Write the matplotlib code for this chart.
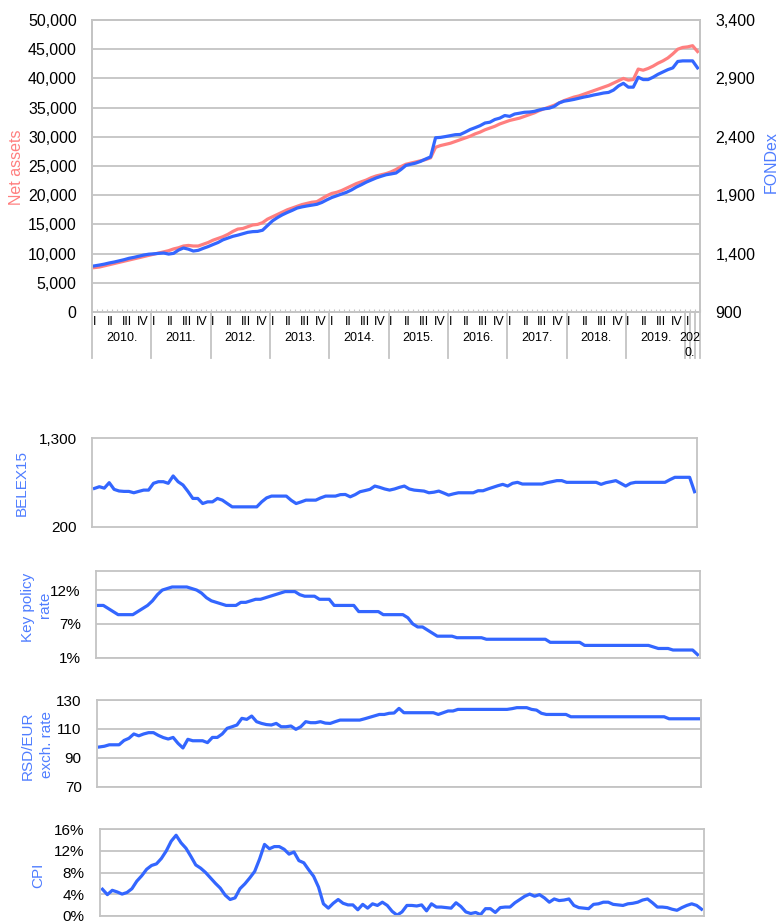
import numpy as np
import matplotlib
matplotlib.use("Agg")
import matplotlib.pyplot as plt
import matplotlib.transforms as mtransforms
from matplotlib.ticker import FuncFormatter

plt.rcParams["font.family"] = ["Liberation Sans", "DejaVu Sans"]

# monthly data, Jan 2010 - Mar 2020
years = ["2010.", "2011.", "2012.", "2013.", "2014.", "2015.", "2016.", "2017.", "2018.", "2019."]
quarters = ["I", "II", "III", "IV"]

net_assets = [
    7600, 7700, 7900, 8100, 8300, 8500, 8700, 8900, 9100, 9300, 9500, 9700,
    9900, 10100, 10300, 10500, 10800, 11000, 11300, 11400, 11300, 11300, 11600, 11900,
    12300, 12600, 12900, 13300, 13800, 14200, 14300, 14600, 14900, 15000, 15300, 15900,
    16300, 16700, 17100, 17500, 17800, 18100, 18400, 18600, 18800, 18900, 19400, 19900,
    20300, 20500, 20800, 21200, 21600, 22000, 22300, 22600, 23000, 23300, 23500, 23700,
    24000, 24400, 24900, 25300, 25500, 25700, 25900, 26100, 26400, 28200, 28500, 28700,
    28900, 29200, 29500, 29800, 30100, 30500, 30800, 31200, 31500, 31800, 32200, 32500,
    32800, 33000, 33200, 33500, 33800, 34100, 34500, 34800, 35100, 35400, 35800, 36200,
    36500, 36800, 37000, 37300, 37600, 37900, 38200, 38500, 38800, 39200, 39600, 40000,
    39700, 39800, 41600, 41400, 41700, 42100, 42600, 43000, 43500, 44200, 45000, 45300,
    45400, 45600, 44600,
]

fondex = [
    1295, 1302, 1310, 1320, 1328, 1338, 1348, 1360, 1368, 1378, 1388, 1395,
    1398, 1402, 1405, 1396, 1402, 1430, 1448, 1438, 1422, 1428, 1445, 1460,
    1478, 1495, 1518, 1533, 1548, 1558, 1570, 1582, 1588, 1590, 1600, 1640,
    1680, 1708, 1732, 1752, 1770, 1790, 1800, 1808, 1815, 1822, 1838, 1860,
    1880, 1895, 1910, 1925, 1945, 1970, 1990, 2012, 2030, 2048, 2062, 2075,
    2082, 2090, 2120, 2155, 2165, 2175, 2190, 2210, 2228, 2392, 2395, 2402,
    2410, 2418, 2420, 2440, 2462, 2478, 2495, 2518, 2525, 2548, 2560, 2582,
    2575, 2595, 2602, 2610, 2612, 2618, 2630, 2640, 2645, 2660, 2690, 2705,
    2712, 2720, 2730, 2740, 2748, 2758, 2766, 2775, 2780, 2800, 2835, 2858,
    2825, 2825, 2910, 2890, 2890, 2910, 2935, 2955, 2975, 2990, 3045, 3050,
    3050, 3050, 2990,
]

belex15 = [
    677, 698, 680, 748, 665, 645, 640, 640, 623, 640, 656, 656,
    740, 760, 760, 740, 831, 760, 719, 640, 553, 553, 490, 511,
    511, 553, 532, 490, 449, 449, 449, 449, 449, 449, 511, 560,
    582, 582, 582, 582, 530, 490, 510, 532, 532, 532, 560, 582,
    582, 582, 600, 602, 573, 600, 636, 650, 665, 706, 690, 670,
    656, 670, 690, 706, 670, 656, 650, 644, 623, 630, 644, 620,
    594, 610, 623, 623, 623, 623, 648, 648, 670, 690, 710, 727,
    706, 740, 752, 731, 731, 731, 731, 731, 748, 760, 773, 773,
    752, 752, 752, 752, 752, 752, 752, 727, 748, 760, 773, 740,
    706, 740, 752, 752, 752, 752, 752, 752, 752, 785, 814, 814,
    814, 814, 636,
]

policy_rate = [
    9.5, 9.5, 9.0, 8.5, 8.0, 8.0, 8.0, 8.0, 8.5, 9.0, 9.5, 10.25,
    11.25, 12.0, 12.25, 12.5, 12.5, 12.5, 12.5, 12.25, 12.0, 11.5, 10.75, 10.25,
    10.0, 9.75, 9.5, 9.5, 9.5, 10.0, 10.0, 10.25, 10.5, 10.5, 10.75, 11.0,
    11.25, 11.5, 11.75, 11.75, 11.75, 11.25, 11.0, 11.0, 11.0, 10.5, 10.5, 10.5,
    9.5, 9.5, 9.5, 9.5, 9.5, 8.5, 8.5, 8.5, 8.5, 8.5, 8.0, 8.0,
    8.0, 8.0, 8.0, 7.5, 6.5, 6.0, 6.0, 5.5, 5.0, 4.5, 4.5, 4.5,
    4.5, 4.25, 4.25, 4.25, 4.25, 4.25, 4.25, 4.0, 4.0, 4.0, 4.0, 4.0,
    4.0, 4.0, 4.0, 4.0, 4.0, 4.0, 4.0, 4.0, 3.5, 3.5, 3.5, 3.5,
    3.5, 3.5, 3.5, 3.0, 3.0, 3.0, 3.0, 3.0, 3.0, 3.0, 3.0, 3.0,
    3.0, 3.0, 3.0, 3.0, 3.0, 2.75, 2.5, 2.5, 2.5, 2.25, 2.25, 2.25,
    2.25, 2.25, 1.5,
]

rsd_eur = [
    97.5, 98.0, 99.0, 99.0, 99.0, 102.0, 103.5, 106.5, 105.2, 106.5, 107.4, 107.4,
    105.5, 104.0, 103.0, 104.1, 100.0, 96.8, 102.8, 101.8, 101.8, 101.8, 100.5, 104.1,
    104.1, 106.5, 110.4, 111.5, 112.7, 117.3, 116.6, 118.9, 115.0, 113.8, 113.0, 112.7,
    113.8, 111.5, 111.5, 112.0, 109.7, 111.5, 115.0, 114.3, 114.3, 115.0, 114.0, 113.8,
    115.0, 116.1, 116.1, 116.1, 116.1, 116.1, 117.0, 118.0, 119.0, 120.0, 120.0, 120.8,
    121.0, 124.2, 121.2, 121.2, 121.2, 121.2, 121.2, 121.2, 121.2, 120.0, 121.2, 122.4,
    122.4, 123.5, 123.5, 123.5, 123.5, 123.5, 123.5, 123.5, 123.5, 123.5, 123.5, 123.5,
    124.0, 124.7, 124.7, 124.7, 123.5, 123.0, 120.8, 120.0, 120.0, 120.0, 120.0, 120.0,
    118.4, 118.4, 118.4, 118.4, 118.4, 118.4, 118.4, 118.4, 118.4, 118.4, 118.4, 118.4,
    118.4, 118.4, 118.4, 118.4, 118.4, 118.4, 118.4, 118.4, 117.0, 117.0, 117.0, 117.0,
    117.0, 117.0, 117.0,
]

cpi = [
    4.9, 3.9, 4.7, 4.4, 4.0, 4.3, 5.0, 6.4, 7.4, 8.6, 9.3, 9.6,
    10.6, 12.0, 13.8, 14.9, 13.5, 12.5, 11.0, 9.4, 8.8, 8.0, 7.0, 6.0,
    5.1, 3.8, 3.0, 3.3, 5.0, 5.9, 7.0, 8.2, 10.5, 13.2, 12.4, 12.8,
    12.8, 12.3, 11.4, 11.8, 10.2, 9.8, 8.5, 7.3, 5.3, 2.2, 1.4, 2.3,
    3.0, 2.3, 2.0, 2.0, 1.1, 2.1, 1.4, 2.2, 1.9, 2.5, 1.9, 0.8,
    0.1, 0.7, 1.9, 1.9, 1.8, 2.0, 0.9, 2.2, 1.6, 1.6, 1.5, 1.4,
    2.4, 1.7, 0.7, 0.4, 0.6, 0.2, 1.3, 1.3, 0.6, 1.5, 1.6, 1.6,
    2.4, 3.0, 3.6, 4.0, 3.6, 3.9, 3.3, 2.5, 3.1, 2.8, 2.9, 3.1,
    1.9, 1.5, 1.4, 1.3, 2.1, 2.2, 2.5, 2.5, 2.1, 2.0, 1.9, 2.2,
    2.3, 2.5, 2.9, 3.1, 2.4, 1.6, 1.6, 1.5, 1.2, 1.0, 1.5, 1.9,
    2.2, 1.9, 1.2,
]

W, H = 779, 923
PINK = "#ff7f7f"
BLUE = "#3366ff"
LBLUE = "#4f7dff"
GRID = "#c4c4c4"
LW = 2.3

x = np.arange(len(net_assets))
fig = plt.figure(figsize=(W / 100, H / 100), dpi=100)


def box(l, t, r, b):
    return [l / W, 1 - b / H, (r - l) / W, (b - t) / H]


def style(ax, size=11):
    for s in ax.spines.values():
        s.set_color(GRID)
        s.set_linewidth(1.3)
    ax.tick_params(axis="y", length=0, labelsize=size, pad=11)
    ax.set_xlim(-0.5, len(x) - 0.5)
    ax.set_xticks([])


thousands = FuncFormatter(lambda v, p: f"{v:,.0f}")

# ---- top panel: net assets and FONDex
ax = fig.add_axes(box(92, 20, 700, 312))
ax.plot(x, net_assets, color=PINK, lw=LW)
style(ax, 11.5)
ax.set_ylim(0, 50000)
ax.set_yticks(range(0, 50001, 5000))
ax.yaxis.set_major_formatter(thousands)
ax.grid(axis="y", color=GRID, lw=1.3)
ax.set_axisbelow(True)
ax.set_xticks(np.arange(-0.5, len(x), 1), minor=True)
ax.tick_params(axis="x", which="minor", direction="in", length=2.5, color=GRID, width=0.8)

ax2 = ax.twinx()
ax2.plot(x, fondex, color=BLUE, lw=LW)
style(ax2, 11.5)
ax2.set_ylim(900, 3400)
ax2.set_yticks(range(900, 3401, 500))
ax2.yaxis.set_major_formatter(thousands)

trans = mtransforms.blended_transform_factory(ax.transData, ax.transAxes)
for m in range(0, len(x), 3):
    ax.text(m - 0.4, -0.034, quarters[(m // 3) % 4], transform=trans,
            ha="left", va="center", fontsize=9)
for i, yr in enumerate(years):
    ax.text(12 * i + 5.5, -0.09, yr, transform=trans, ha="center", va="center", fontsize=9)
ax.text(120.4, -0.09, "202", transform=trans, ha="center", va="center", fontsize=9)
ax.text(120.4, -0.142, "0.", transform=trans, ha="center", va="center", fontsize=9)
for b in list(np.arange(-0.5, 120, 12)) + [120.5, 121.5, 122.5]:
    ax.plot([b, b], [0, -0.158], transform=trans, color=GRID, lw=1.3, clip_on=False)

fig.text(17 / W, 1 - 167 / H, "Net assets", rotation=90, color=PINK,
         fontsize=11.5, ha="center", va="center")
fig.text(771 / W, 1 - 162 / H, "FONDex", rotation=90, color=LBLUE,
         fontsize=11.5, ha="center", va="center")

# ---- BELEX15
bx = fig.add_axes(box(92, 438, 697, 527))
bx.plot(x, belex15, color=BLUE, lw=LW)
style(bx)
bx.set_ylim(200, 1300)
bx.set_yticks([200, 1300])
bx.yaxis.set_major_formatter(thousands)
fig.text(22 / W, 1 - 483 / H, "BELEX15", rotation=90, color=LBLUE,
         fontsize=11, ha="center", va="center")

# ---- key policy rate
kx = fig.add_axes(box(96, 571, 700, 657.7))
kx.plot(x, policy_rate, color=BLUE, lw=LW)
style(kx)
kx.set_ylim(1, 15.1)
kx.set_yticks([1, 6.5, 12])
kx.set_yticklabels(["1%", "7%", "12%"])
kx.grid(axis="y", color=GRID, lw=1.3)
kx.set_axisbelow(True)
fig.text(28 / W, 1 - 607 / H, "Key policy", rotation=90, color=LBLUE,
         fontsize=11, ha="center", va="center")
fig.text(45 / W, 1 - 605 / H, "rate", rotation=90, color=LBLUE,
         fontsize=11, ha="center", va="center")

# ---- RSD/EUR exchange rate
rx = fig.add_axes(box(97, 700, 701, 786.7))
rx.plot(x, rsd_eur, color=BLUE, lw=LW)
style(rx)
rx.set_ylim(70, 130)
rx.set_yticks([70, 90, 110, 130])
rx.grid(axis="y", color=GRID, lw=1.3)
rx.set_axisbelow(True)
fig.text(28 / W, 1 - 746 / H, "RSD/EUR", rotation=90, color=LBLUE,
         fontsize=11, ha="center", va="center")
fig.text(47 / W, 1 - 745 / H, "exch. rate", rotation=90, color=LBLUE,
         fontsize=11, ha="center", va="center")

# ---- CPI
cx = fig.add_axes(box(100, 829.3, 704, 915.7))
cx.plot(x, cpi, color=BLUE, lw=LW)
style(cx)
cx.set_ylim(0, 16)
cx.set_yticks(range(0, 17, 4))
cx.yaxis.set_major_formatter(FuncFormatter(lambda v, p: f"{v:.0f}%"))
cx.grid(axis="y", color=GRID, lw=1.3)
cx.set_axisbelow(True)
fig.text(38 / W, 1 - 875 / H, "CPI", rotation=90, color=LBLUE,
         fontsize=11, ha="center", va="center")

fig.savefig("out.png", dpi=100)
